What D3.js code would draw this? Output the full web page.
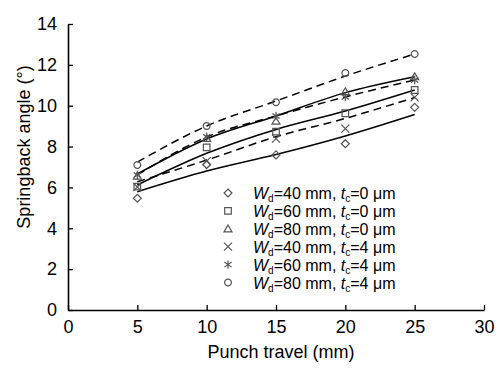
<!DOCTYPE html>
<html><head><meta charset="utf-8">
<script src="https://cdn.jsdelivr.net/npm/d3@7"></script>
<style>
html,body{margin:0;padding:0;background:#fff;}
svg{display:block;font-family:"Liberation Sans",Arial,sans-serif;}
</style></head>
<body>
<svg id="c" width="496" height="373"></svg>
<script>
// Data
const travel = [5, 10, 15, 20, 25];
const xTicks = [0, 5, 10, 15, 20, 25, 30];
const yTicks = [0, 2, 4, 6, 8, 10, 12, 14];
// measured points
const wd40tc0 = [5.47, 7.12, 7.59, 8.14, 9.92];
const wd60tc0 = [6.04, 7.96, 8.73, 9.63, 10.77];
const wd80tc0 = [6.56, 8.40, 9.25, 10.69, 11.42];
const wd40tc4 = [6.02, 7.29, 8.39, 8.88, 10.41];
const wd60tc4 = [6.61, 8.48, 9.50, 10.43, 11.26];
const wd80tc4 = [7.10, 9.01, 10.17, 11.60, 12.53];
// trend curves
const fit40tc0 = [5.79, 6.80, 7.61, 8.52, 9.57];
const fit60tc0 = [6.12, 7.67, 8.84, 9.74, 10.77];
const fit80tc0 = [6.66, 8.37, 9.50, 10.64, 11.42];
const fit40tc4 = [6.28, 7.34, 8.48, 9.38, 10.40];
const fit60tc4 = [6.61, 8.47, 9.50, 10.43, 11.26];
const fit80tc4 = [7.24, 9.01, 10.23, 11.45, 12.53];
const legendWd = ["40", "60", "80", "40", "60", "80"];
const legendTc = ["0", "0", "0", "4", "4", "4"];

const svg = d3.select("#c");
const x = d3.scaleLinear().domain([0, 30]).range([68, 484]);
const y = d3.scaleLinear().domain([0, 14]).range([310, 24]);

const markerPaths = {
  diamond: r => `M0,${-r}L${r},0L0,${r}L${-r},0Z`,
  square: r => `M${-r},${-r}H${r}V${r}H${-r}Z`,
  triangle: r => `M0,${-r}L${r*1.05},${r*0.8}L${-r*1.05},${r*0.8}Z`,
  x: r => `M${-r},${-r}L${r},${r}M${r},${-r}L${-r},${r}`,
  star: r => `M0,${-r}V${r}M${-r*0.87},${-r*0.6}L${r*0.87},${r*0.6}M${r*0.87},${-r*0.6}L${-r*0.87},${r*0.6}`,
  circle: r => `M${r},0A${r},${r} 0 1,1 ${-r},0A${r},${r} 0 1,1 ${r},0Z`
};

const series = [
  {vals: wd40tc0, fit: fit40tc0, m: "diamond", r: 4, dash: null},
  {vals: wd60tc0, fit: fit60tc0, m: "square", r: 3.3, dash: null},
  {vals: wd80tc0, fit: fit80tc0, m: "triangle", r: 3.8, dash: null},
  {vals: wd40tc4, fit: fit40tc4, m: "x", r: 4, dash: "8,5"},
  {vals: wd60tc4, fit: fit60tc4, m: "star", r: 4.2, dash: "8,5"},
  {vals: wd80tc4, fit: fit80tc4, m: "circle", r: 3.4, dash: "8,5"}
];

// axes
const xAxis = d3.axisBottom(x).tickValues(xTicks).tickSize(-5).tickPadding(10).tickSizeOuter(0);
const yAxis = d3.axisLeft(y).tickValues(yTicks).tickSize(-5).tickPadding(11).tickSizeOuter(0);
const gx = svg.append("g").attr("transform", "translate(0,310)").call(xAxis);
const gy = svg.append("g").attr("transform", "translate(68,0)").call(yAxis);
[gx, gy].forEach(g => {
  g.select(".domain").attr("stroke", "#000").attr("stroke-width", 1.6);
  g.selectAll(".tick line").attr("stroke", "#000").attr("stroke-width", 1.3);
  g.selectAll(".tick text").attr("fill", "#000").style("font-size", "18px").style("font-family", "Liberation Sans, Arial, sans-serif");
});

// lines
const line = d3.line().x((d, i) => x(travel[i])).y(d => y(d)).curve(d3.curveMonotoneX);
series.forEach(s => {
  svg.append("path").attr("d", line(s.fit)).attr("fill", "none")
    .attr("stroke", "#000").attr("stroke-width", 1.5)
    .attr("stroke-dasharray", s.dash);
});

// markers
series.forEach(s => {
  svg.append("g").selectAll("path").data(s.vals).join("path")
    .attr("transform", (d, i) => `translate(${x(travel[i])},${y(d)})`)
    .attr("d", markerPaths[s.m](s.r))
    .attr("fill", "none").attr("stroke", "#555").attr("stroke-width", 1.2);
});

// legend
const lg = svg.append("g");
series.forEach((s, i) => {
  const yy = 193 + i * 17.9;
  lg.append("path").attr("transform", `translate(228,${yy})`)
    .attr("d", markerPaths[s.m](s.r)).attr("fill", "none").attr("stroke", "#555").attr("stroke-width", 1.2);
  const t = lg.append("text").attr("x", 253).attr("y", yy + 6).style("font-size", "16px").attr("fill", "#000");
  t.append("tspan").style("font-style", "italic").text("W");
  t.append("tspan").attr("dy", 3).style("font-size", "10px").text("d");
  t.append("tspan").attr("dy", -3).text(`=${legendWd[i]} mm, `);
  t.append("tspan").style("font-style", "italic").text("t");
  t.append("tspan").attr("dy", 3).style("font-size", "10px").text("c");
  t.append("tspan").attr("dy", -3).text(`=${legendTc[i]} μm`);
});

// titles
svg.append("text").attr("x", 281).attr("y", 358).attr("text-anchor", "middle")
  .style("font-size", "18px").text("Punch travel (mm)");
svg.append("text").attr("transform", "translate(30,147) rotate(-90)").attr("text-anchor", "middle")
  .style("font-size", "18px").text("Springback angle (°)");
</script>
</body></html>
